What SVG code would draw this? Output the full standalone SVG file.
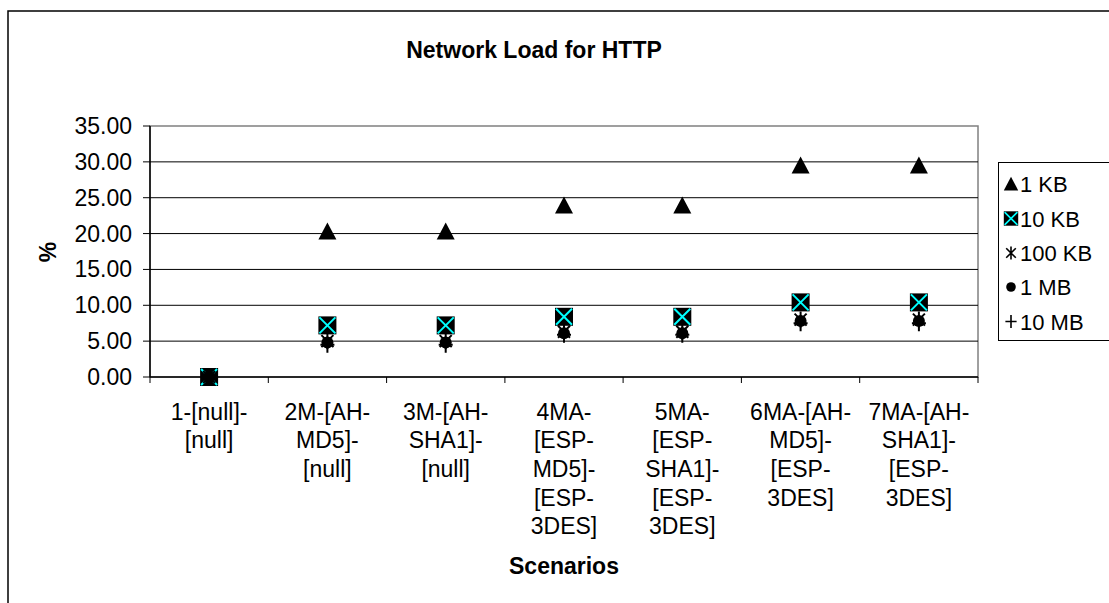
<svg xmlns="http://www.w3.org/2000/svg" width="1109" height="603" viewBox="0 0 1109 603">
  <style>
    text { font-family: "Liberation Sans", Arial, sans-serif; fill: #000; }
    .lbl { font-size: 22px; }
    .bold { font-size: 23px; font-weight: bold; }
    .ylbl { font-size: 23px; text-anchor: end; }
    .xlbl { font-size: 23px; text-anchor: middle; }
    .grid { stroke: #000; stroke-width: 1; }
    .tick { stroke: #000; stroke-width: 1; }
  </style>
  <defs>
    <!-- series markers -->
    <g id="m-tri"><path d="M0,-9 L9,8 L-9,8 Z" fill="#000"/></g>
    <g id="m-sq">
      <rect x="-9" y="-9" width="18" height="18" fill="#000"/>
      <path d="M-8,-8 L8,8 M8,-8 L-8,8" stroke="#00FFFF" stroke-width="2"/>
    </g>
    <g id="m-star"><path d="M-6,-6 L6,6 M6,-6 L-6,6 M0,-8 L0,8" stroke="#000" stroke-width="2"/></g>
    <g id="m-dot"><circle r="6" fill="#000"/></g>
    <g id="m-plus"><path d="M-7,0 L7,0 M0,-8 L0,8" stroke="#000" stroke-width="2"/></g>
  </defs>

  <rect width="1109" height="603" fill="#fff"/>
  <!-- chart frame -->
  <rect x="8" y="11" width="1200" height="700" fill="none" stroke="#000" stroke-width="1.5"/>

  <text class="bold" x="534" y="58" text-anchor="middle">Network Load for HTTP</text>

  <!-- plot area -->
  <g id="plot-area">
    <rect x="150" y="126" width="828" height="251" fill="#fff" stroke="#808080" stroke-width="1.5"/>
    <g class="grid">
      <line x1="150" y1="161.86" x2="978" y2="161.86"/>
      <line x1="150" y1="197.71" x2="978" y2="197.71"/>
      <line x1="150" y1="233.57" x2="978" y2="233.57"/>
      <line x1="150" y1="269.43" x2="978" y2="269.43"/>
      <line x1="150" y1="305.29" x2="978" y2="305.29"/>
      <line x1="150" y1="341.14" x2="978" y2="341.14"/>
    </g>
    <!-- axes -->
    <line x1="150" y1="126" x2="150" y2="377" stroke="#000" stroke-width="1.5"/>
    <line x1="150" y1="377" x2="978" y2="377" stroke="#000" stroke-width="1.5"/>
    <g class="tick">
      <line x1="143" y1="126" x2="150" y2="126"/>
      <line x1="143" y1="161.86" x2="150" y2="161.86"/>
      <line x1="143" y1="197.71" x2="150" y2="197.71"/>
      <line x1="143" y1="233.57" x2="150" y2="233.57"/>
      <line x1="143" y1="269.43" x2="150" y2="269.43"/>
      <line x1="143" y1="305.29" x2="150" y2="305.29"/>
      <line x1="143" y1="341.14" x2="150" y2="341.14"/>
      <line x1="143" y1="377" x2="150" y2="377"/>
      <line x1="150" y1="377" x2="150" y2="383"/>
      <line x1="268.3" y1="377" x2="268.3" y2="383"/>
      <line x1="386.6" y1="377" x2="386.6" y2="383"/>
      <line x1="504.9" y1="377" x2="504.9" y2="383"/>
      <line x1="623.1" y1="377" x2="623.1" y2="383"/>
      <line x1="741.4" y1="377" x2="741.4" y2="383"/>
      <line x1="859.7" y1="377" x2="859.7" y2="383"/>
      <line x1="978" y1="377" x2="978" y2="383"/>
    </g>
  </g>

  <!-- value axis labels -->
  <g id="y-axis">
    <text class="ylbl" x="132" y="134">35.00</text>
    <text class="ylbl" x="132" y="169.9">30.00</text>
    <text class="ylbl" x="132" y="205.7">25.00</text>
    <text class="ylbl" x="132" y="241.6">20.00</text>
    <text class="ylbl" x="132" y="277.4">15.00</text>
    <text class="ylbl" x="132" y="313.3">10.00</text>
    <text class="ylbl" x="132" y="349.1">5.00</text>
    <text class="ylbl" x="132" y="385">0.00</text>
    <text class="bold" transform="translate(55.5,252) rotate(-90)" text-anchor="middle">%</text>
  </g>

  <!-- category labels -->
  <g id="x-axis">
    <text class="xlbl" x="209.1" y="419.5">1-[null]-<tspan x="209.1" dy="28.7">[null]</tspan></text>
    <text class="xlbl" x="327.4" y="419.5">2M-[AH-<tspan x="327.4" dy="28.7">MD5]-</tspan><tspan x="327.4" dy="28.7">[null]</tspan></text>
    <text class="xlbl" x="445.7" y="419.5">3M-[AH-<tspan x="445.7" dy="28.7">SHA1]-</tspan><tspan x="445.7" dy="28.7">[null]</tspan></text>
    <text class="xlbl" x="564" y="419.5">4MA-<tspan x="564" dy="28.7">[ESP-</tspan><tspan x="564" dy="28.7">MD5]-</tspan><tspan x="564" dy="28.7">[ESP-</tspan><tspan x="564" dy="28.7">3DES]</tspan></text>
    <text class="xlbl" x="682.3" y="419.5">5MA-<tspan x="682.3" dy="28.7">[ESP-</tspan><tspan x="682.3" dy="28.7">SHA1]-</tspan><tspan x="682.3" dy="28.7">[ESP-</tspan><tspan x="682.3" dy="28.7">3DES]</tspan></text>
    <text class="xlbl" x="800.6" y="419.5">6MA-[AH-<tspan x="800.6" dy="28.7">MD5]-</tspan><tspan x="800.6" dy="28.7">[ESP-</tspan><tspan x="800.6" dy="28.7">3DES]</tspan></text>
    <text class="xlbl" x="918.9" y="419.5">7MA-[AH-<tspan x="918.9" dy="28.7">SHA1]-</tspan><tspan x="918.9" dy="28.7">[ESP-</tspan><tspan x="918.9" dy="28.7">3DES]</tspan></text>
    <text class="bold" x="564" y="574" text-anchor="middle">Scenarios</text>
  </g>

  <!-- data series -->
  <g id="series-1kb">
    <use href="#m-tri" x="209.1" y="377"/>
    <use href="#m-tri" x="327.4" y="231.4"/>
    <use href="#m-tri" x="445.7" y="231.4"/>
    <use href="#m-tri" x="564" y="205.6"/>
    <use href="#m-tri" x="682.3" y="205.6"/>
    <use href="#m-tri" x="800.6" y="165.5"/>
    <use href="#m-tri" x="918.9" y="165.5"/>
  </g>
  <g id="series-10kb">
    <use href="#m-sq" x="209.1" y="377"/>
    <use href="#m-sq" x="327.4" y="325.4"/>
    <use href="#m-sq" x="445.7" y="325.4"/>
    <use href="#m-sq" x="564" y="316.8"/>
    <use href="#m-sq" x="682.3" y="316.8"/>
    <use href="#m-sq" x="800.6" y="302.4"/>
    <use href="#m-sq" x="918.9" y="302.4"/>
  </g>
  <g id="series-100kb">
    <use href="#m-star" x="209.1" y="377"/>
    <use href="#m-star" x="327.4" y="341.1"/>
    <use href="#m-star" x="445.7" y="341.1"/>
    <use href="#m-star" x="564" y="331.8"/>
    <use href="#m-star" x="682.3" y="331.8"/>
    <use href="#m-star" x="800.6" y="319.6"/>
    <use href="#m-star" x="918.9" y="319.6"/>
  </g>
  <g id="series-1mb">
    <use href="#m-dot" x="209.1" y="377"/>
    <use href="#m-dot" x="327.4" y="342.6"/>
    <use href="#m-dot" x="445.7" y="342.6"/>
    <use href="#m-dot" x="564" y="333.3"/>
    <use href="#m-dot" x="682.3" y="333.3"/>
    <use href="#m-dot" x="800.6" y="321.1"/>
    <use href="#m-dot" x="918.9" y="321.1"/>
  </g>
  <g id="series-10mb">
    <use href="#m-plus" x="209.1" y="377"/>
    <use href="#m-plus" x="327.4" y="344.7"/>
    <use href="#m-plus" x="445.7" y="344.7"/>
    <use href="#m-plus" x="564" y="334.7"/>
    <use href="#m-plus" x="682.3" y="334.7"/>
    <use href="#m-plus" x="800.6" y="323.2"/>
    <use href="#m-plus" x="918.9" y="323.2"/>
  </g>

  <!-- legend -->
  <g id="legend">
    <rect x="998.5" y="162.5" width="200" height="178" fill="#fff" stroke="#000" stroke-width="1"/>
    <g transform="translate(1011,184) scale(0.8)"><use href="#m-tri"/></g>
    <g transform="translate(1011,218.5) scale(0.8)"><use href="#m-sq"/></g>
    <g transform="translate(1011,253) scale(0.8)"><use href="#m-star"/></g>
    <g transform="translate(1011,287) scale(0.8)"><use href="#m-dot"/></g>
    <g transform="translate(1011,321.5) scale(0.8)"><use href="#m-plus"/></g>
    <text class="lbl" x="1020" y="192">1 KB</text>
    <text class="lbl" x="1020" y="226.5">10 KB</text>
    <text class="lbl" x="1020" y="261">100 KB</text>
    <text class="lbl" x="1020" y="295">1 MB</text>
    <text class="lbl" x="1020" y="329.5">10 MB</text>
  </g>
</svg>
